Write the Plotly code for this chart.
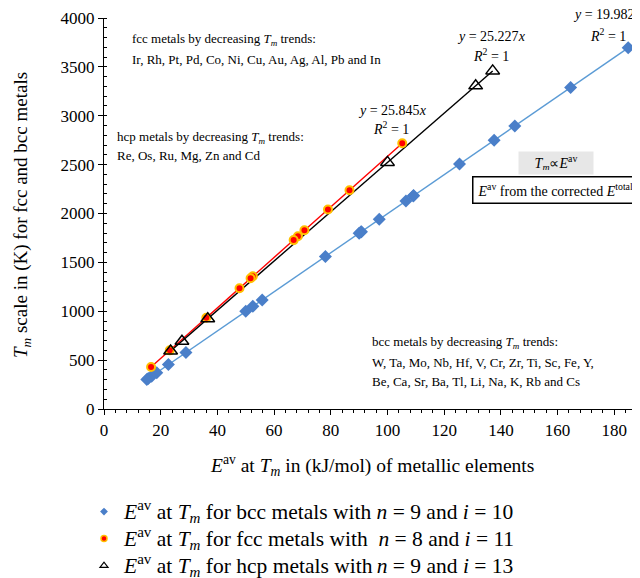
import numpy as np
import plotly.graph_objects as go

# ---------------- data ----------------
bcc_names = ["W", "Ta", "Mo", "Nb", "Hf", "V", "Cr", "Zr", "Ti", "Sc", "Fe", "Y",
             "Be", "Ca", "Sr", "Ba", "Tl", "Li", "Na", "K", "Rb", "Cs"]
bcc_eav = [184.9, 164.6, 144.9, 137.6, 125.4, 109.2, 109.1, 106.5, 97.1, 90.8, 90.6, 90.0,
           78.1, 55.8, 52.5, 50.0, 28.9, 22.7, 18.6, 16.8, 15.6, 15.1]
bcc_tm = [3695, 3290, 2896, 2750, 2506, 2183, 2180, 2128, 1941, 1814, 1811, 1799,
          1560, 1115, 1050, 1000, 577, 454, 371, 336, 312, 301]

fcc_names = ["Ir", "Rh", "Pt", "Pd", "Co", "Ni", "Cu", "Au", "Ag", "Al", "Pb", "In"]
fcc_eav = [105.2, 86.6, 79.0, 70.7, 68.4, 66.9, 52.5, 51.7, 47.8, 36.1, 23.2, 16.6]
fcc_tm = [2719, 2237, 2041, 1828, 1768, 1728, 1358, 1337, 1235, 933, 600, 430]

hcp_names = ["Re", "Os", "Ru", "Mg", "Zn", "Cd"]
hcp_eav = [137.1, 131.1, 100.0, 36.6, 27.5, 23.5]
hcp_tm = [3459, 3306, 2523, 923, 693, 594]

slope_bcc = 19.982
slope_fcc = 25.845
slope_hcp = 25.227

x_ticks = [0, 20, 40, 60, 80, 100, 120, 140, 160, 180]
y_ticks = [0, 500, 1000, 1500, 2000, 2500, 3000, 3500, 4000]

# ---------------- styling ----------------
FONT = "Liberation Serif"
BLUE_M = "#4A7FC9"
BLUE_L = "#5B9BD5"
RED = "#FF0000"
ORANGE = "#FFC000"

# page has an 8px body margin; figure sized to fit the 640x578 window
OFF = 8
W, H = 640 - OFF, 578 - OFF
PL, PT, PB = 104, 18, 409          # plot area edges in screen pixels
ML, MR, MT = PL - OFF, 0, PT - OFF
MB = H - (PB - OFF)
PW = W - ML - MR
PH = H - MT - MB
XMAX = PW / 2.835


def px(sx):
    return (sx - PL) / PW


def py(sy):
    return (PB - sy) / PH


fig = go.Figure()


def trend(xs, slope, color):
    xa = np.array([min(xs), max(xs)])
    fig.add_trace(go.Scatter(x=xa, y=slope * xa, mode="lines",
                             line=dict(color=color, width=1.4),
                             showlegend=False, hoverinfo="skip", cliponaxis=False))


trend(bcc_eav, slope_bcc, BLUE_L)
trend(fcc_eav, slope_fcc, RED)
trend(hcp_eav, slope_hcp, "black")

fig.add_trace(go.Scatter(x=bcc_eav, y=bcc_tm, text=bcc_names, mode="markers",
                         marker=dict(symbol="diamond", size=10, color=BLUE_M,
                                     line=dict(width=0)),
                         showlegend=False, cliponaxis=False))
fig.add_trace(go.Scatter(x=fcc_eav, y=fcc_tm, text=fcc_names, mode="markers",
                         marker=dict(symbol="circle", size=8, color=RED,
                                     line=dict(width=2, color=ORANGE)),
                         showlegend=False, cliponaxis=False))
fig.add_trace(go.Scatter(x=hcp_eav, y=hcp_tm, text=hcp_names, mode="markers",
                         marker=dict(symbol="triangle-up-open", size=12, color="black",
                                     line=dict(width=1.5, color="black")),
                         showlegend=False, cliponaxis=False))

E = "<i>E</i><sup>av</sup>"
TM = "<i>T</i><sub><i>m</i></sub>"


def big(s):
    return f'<span style="font-size:21.5px">{s}</span>'


leg_names = [
    big(f"{E} at {TM} for bcc metals with <i>n</i> = 9 and <i>i</i> = 10"),
    big(f"{E} at {TM} for fcc metals with &nbsp;<i>n</i> = 8 and <i>i</i> = 11"),
    big(f"{E} at {TM} for hcp metals with\u2009<i>n</i> = 9 and <i>i</i> = 13"),
]
leg_markers = [
    dict(symbol="diamond", size=6, color=BLUE_M, line=dict(width=0)),
    dict(symbol="circle", size=6, color=RED, line=dict(width=1.5, color=ORANGE)),
    dict(symbol="triangle-up-open", size=7, color="black", line=dict(width=1.2, color="black")),
]
for nm, mk in zip(leg_names, leg_markers):
    fig.add_trace(go.Scatter(x=[None], y=[None], mode="markers", name=nm, marker=mk,
                             showlegend=True))

anns = []


def note(text, sx, sy, size=13, xanchor="left", **kw):
    anns.append(dict(text=text, x=px(sx), y=py(sy), xref="paper", yref="paper",
                     xanchor=xanchor, yanchor="middle", showarrow=False,
                     font=dict(family=FONT, size=size, color="black"), **kw))


note(f"fcc metals by decreasing {TM} trends:", 130, 40)
note("Ir, Rh, Pt, Pd, Co, Ni, Cu, Au, Ag, Al, Pb and In", 130, 59)
note(f"hcp metals by decreasing {TM} trends:", 115, 137)
note("Re, Os, Ru, Mg, Zn and Cd", 115, 155)
note(f"bcc metals by decreasing {TM} trends:", 370, 342)
note("W, Ta, Mo, Nb, Hf, V, Cr, Zr, Ti, Sc, Fe, Y,", 370, 362)
note("Be, Ca, Sr, Ba, Tl, Li, Na, K, Rb and Cs", 370, 381)

EQ = 14
note(f"<i>y</i> = {slope_fcc}<i>x</i>", 392, 110, size=EQ, xanchor="center")
note("<i>R</i><sup>2</sup> = 1", 391, 128, size=EQ, xanchor="center")
note(f"<i>y</i> = {slope_hcp}<i>x</i>", 491, 37, size=EQ, xanchor="center")
note("<i>R</i><sup>2</sup> = 1", 491, 55, size=EQ, xanchor="center")
note(f"<i>y</i> = {slope_bcc}<i>x</i>", 607, 14, size=EQ, xanchor="center")
note("<i>R</i><sup>2</sup> = 1", 608, 35, size=EQ, xanchor="center")

note(f"{TM}∝{E}", 556, 163, size=14, xanchor="center", bgcolor="#E7E7E7",
     borderpad=4, width=66, height=14)
note(f"{E} from the corrected <i>E</i><sup>total</sup>", 472, 190, size=14,
     bgcolor="white", bordercolor="black", borderwidth=1.5, borderpad=4,
     width=166, height=17, align="left")

# axis titles
note(f"{E} at {TM} in (kJ/mol) of metallic elements", 372, 465, size=19.5,
     xanchor="center")
note(f"{TM} scale in (K) for fcc and bcc metals", 22, 215, size=19,
     xanchor="center", textangle=-90)

axis_common = dict(showgrid=False, zeroline=False, showline=True, linecolor="black",
                   linewidth=1.3, ticks="outside", ticklen=5, tickwidth=1.3,
                   tickcolor="black", automargin=False,
                   tickfont=dict(family=FONT, size=17, color="black"))

fig.update_layout(
    width=W, height=H,
    margin=dict(l=ML, r=MR, t=MT, b=MB, autoexpand=False),
    paper_bgcolor="white", plot_bgcolor="white",
    font=dict(family=FONT, color="black"),
    xaxis=dict(range=[0, XMAX], tickvals=x_ticks,
               minor=dict(dtick=4, ticks="outside", ticklen=3, tickwidth=1, tickcolor="black"),
               **axis_common),
    yaxis=dict(range=[0, 4000], tickvals=y_ticks,
               minor=dict(dtick=100, ticks="inside", ticklen=3, tickwidth=1, tickcolor="black"),
               **axis_common),
    xaxis2=dict(overlaying="x", matches="x", anchor="y", side="bottom", range=[0, XMAX],
                tickvals=x_ticks, ticks="inside", ticklen=4, tickwidth=1.3, tickcolor="black",
                showticklabels=False, showgrid=False, zeroline=False, showline=False,
                automargin=False),
    yaxis2=dict(overlaying="y", matches="y", anchor="x", side="left", range=[0, 4000],
                tickvals=y_ticks, ticks="inside", ticklen=4, tickwidth=1.3, tickcolor="black",
                showticklabels=False, showgrid=False, zeroline=False, showline=False,
                automargin=False),
    legend=dict(xref="container", yref="container",
                x=(84 - OFF) / W, y=1 - (493 - OFF) / H,
                xanchor="left", yanchor="top",
                font=dict(family=FONT, size=18.5, color="black"),
                tracegroupgap=0, itemwidth=30,
                bgcolor="rgba(0,0,0,0)"),
    annotations=anns,
    showlegend=True,
)

fig.write_html("out.html")
